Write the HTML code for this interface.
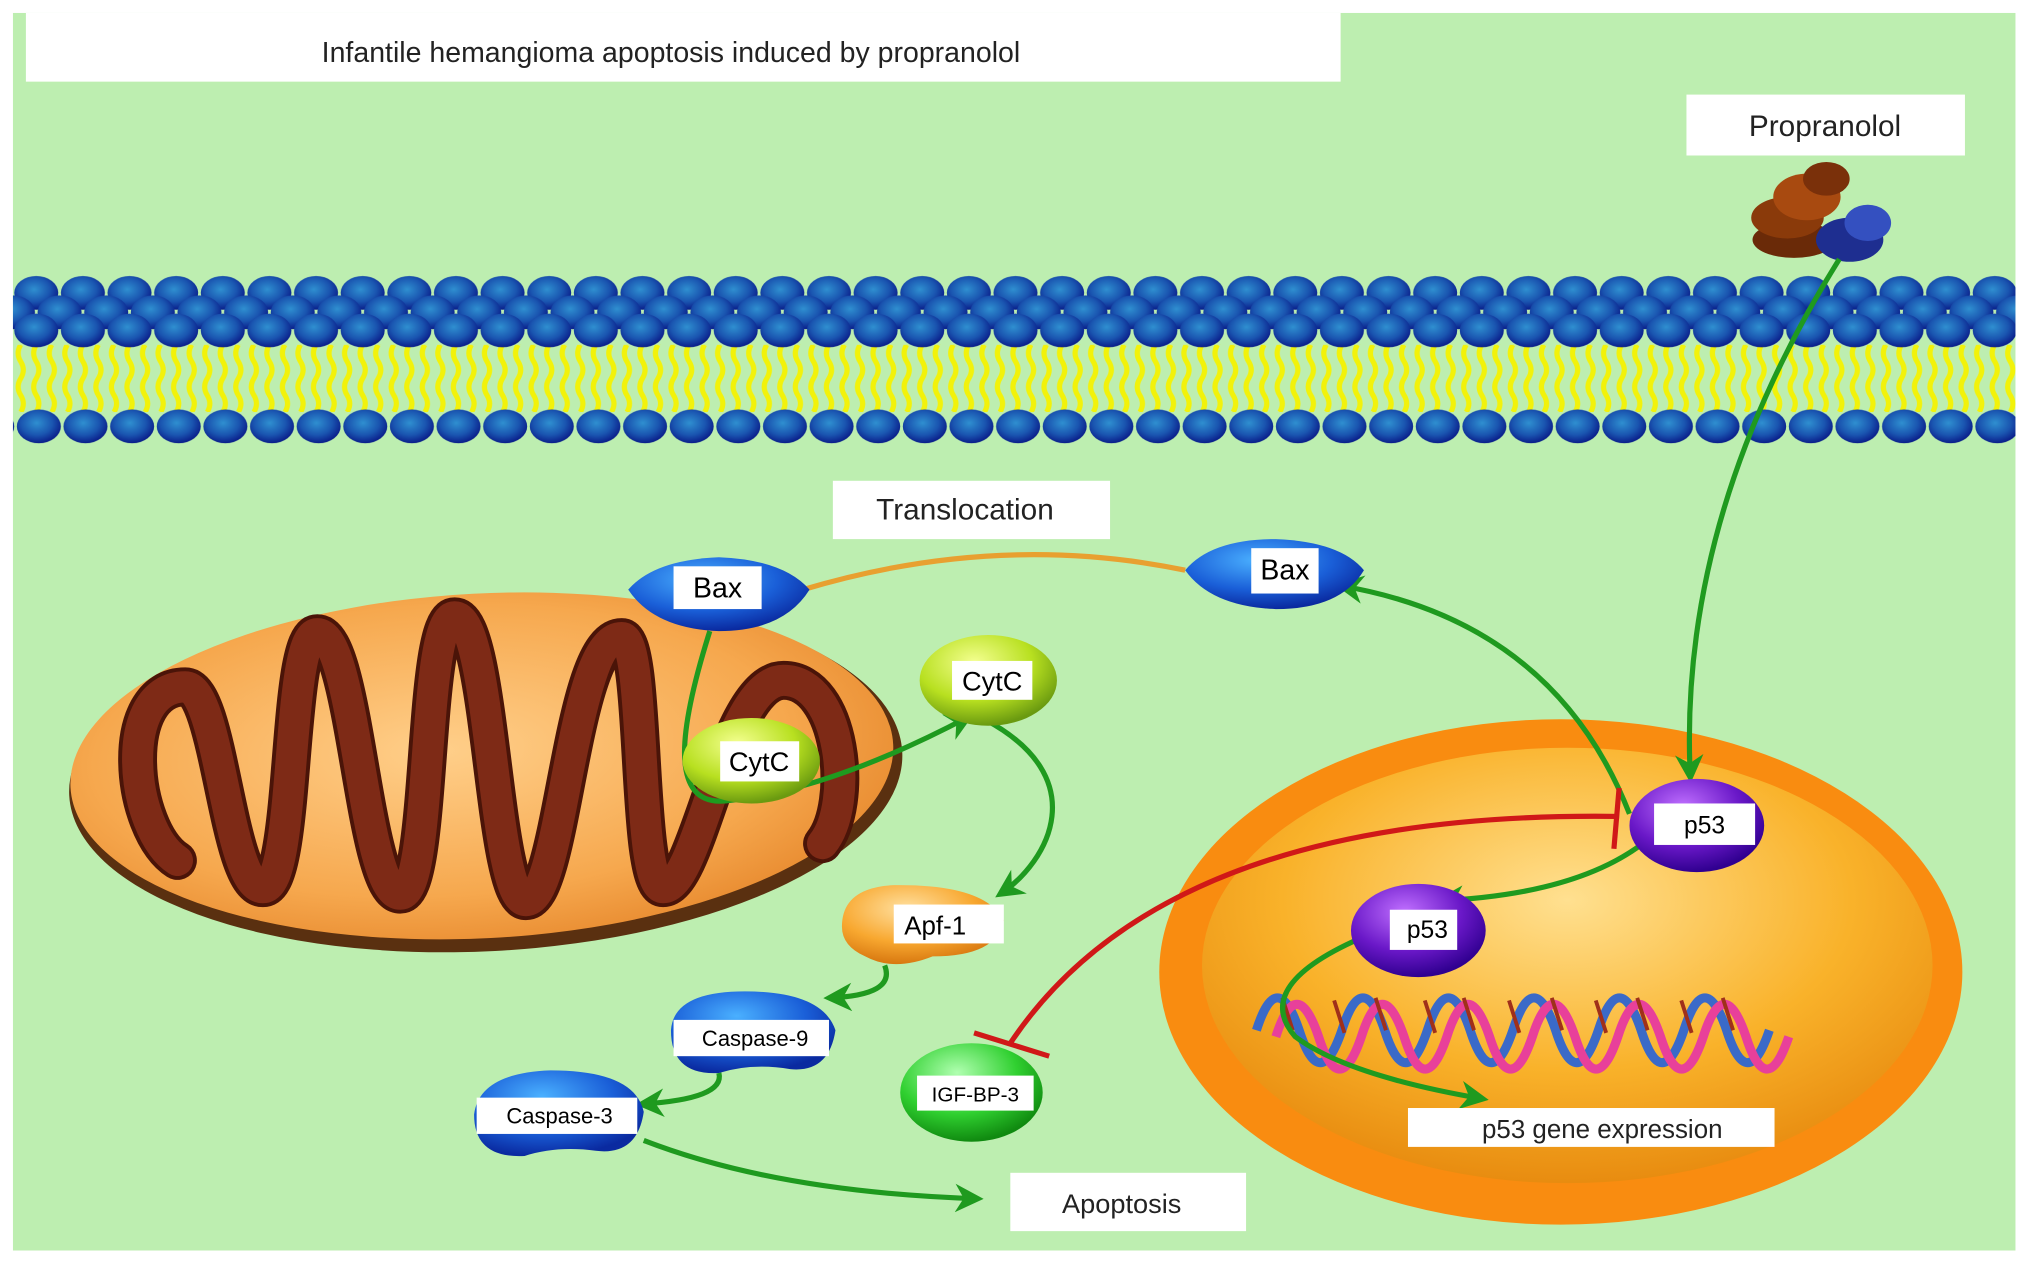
<!DOCTYPE html>
<html><head><meta charset="utf-8"><style>
html,body{margin:0;padding:0;background:#fff;}
svg{display:block;}
text{font-family:"Liberation Sans",Arial,sans-serif;}
</style></head><body>
<svg width="2031" height="1270" viewBox="0 0 1568 980" preserveAspectRatio="none" xmlns="http://www.w3.org/2000/svg">
<defs>
<radialGradient id="ball" cx="0.45" cy="0.4" r="0.6"><stop offset="0" stop-color="#2f8fd0"/><stop offset="0.6" stop-color="#1a55b0"/><stop offset="1" stop-color="#0a1e8a"/></radialGradient>
<pattern id="topballs" x="10" y="210" width="36" height="60" patternUnits="userSpaceOnUse">
<ellipse cx="18" cy="16" rx="17" ry="13" fill="url(#ball)"/>
<ellipse cx="0" cy="31" rx="17" ry="13" fill="url(#ball)"/>
<ellipse cx="36" cy="31" rx="17" ry="13" fill="url(#ball)"/>
<ellipse cx="18" cy="45" rx="17" ry="13" fill="url(#ball)"/>
</pattern>
<pattern id="botballs" x="12" y="310" width="36" height="40" patternUnits="userSpaceOnUse">
<ellipse cx="18" cy="19" rx="17" ry="13" fill="url(#ball)"/>
</pattern>
<pattern id="tails" x="10" y="266" width="12" height="52" patternUnits="userSpaceOnUse">
<path d="M6,0 q-4,6.5 0,13 q4,6.5 0,13 q-4,6.5 0,13 q4,6.5 0,13" stroke="#f2f20a" stroke-width="4" fill="none"/>
</pattern>
<radialGradient id="mito" cx="0.45" cy="0.45" r="0.7"><stop offset="0" stop-color="#ffcf8a"/><stop offset="0.6" stop-color="#f6a84e"/><stop offset="1" stop-color="#e07a1e"/></radialGradient>
<radialGradient id="nuc" cx="0.5" cy="0.35" r="0.65"><stop offset="0" stop-color="#ffe090"/><stop offset="0.6" stop-color="#f9b22a"/><stop offset="1" stop-color="#e88c10"/></radialGradient>
<radialGradient id="blue" cx="0.4" cy="0.3" r="0.7"><stop offset="0" stop-color="#4ab0ff"/><stop offset="0.6" stop-color="#1a5fd8"/><stop offset="1" stop-color="#0a2aa0"/></radialGradient>
<radialGradient id="yg" cx="0.4" cy="0.3" r="0.7"><stop offset="0" stop-color="#f4ff90"/><stop offset="0.6" stop-color="#b8e020"/><stop offset="1" stop-color="#6a9a10"/></radialGradient>
<radialGradient id="or" cx="0.4" cy="0.3" r="0.7"><stop offset="0" stop-color="#ffe0a0"/><stop offset="0.6" stop-color="#f8a830"/><stop offset="1" stop-color="#d87810"/></radialGradient>
<radialGradient id="gr" cx="0.4" cy="0.3" r="0.7"><stop offset="0" stop-color="#b0ffb0"/><stop offset="0.6" stop-color="#30d030"/><stop offset="1" stop-color="#108a10"/></radialGradient>
<radialGradient id="pu" cx="0.4" cy="0.3" r="0.7"><stop offset="0" stop-color="#c070ff"/><stop offset="0.6" stop-color="#6a18c8"/><stop offset="1" stop-color="#300090"/></radialGradient>
<marker id="ag2" viewBox="0 0 10 10" refX="8" refY="5" markerWidth="26" markerHeight="22" orient="auto" markerUnits="userSpaceOnUse"><path d="M0,0 L10,5 L0,10 L3,5z" fill="#1f9a1f"/></marker>
</defs>
<rect x="10" y="10" width="1546" height="955" fill="#bdeeb0"/>
<rect x="0" y="965" width="1568" height="15" fill="#fff"/>
<!-- membrane -->
<rect x="10" y="266" width="1546" height="52" fill="url(#tails)"/>
<rect x="10" y="210" width="1546" height="60" fill="url(#topballs)"/>
<rect x="10" y="312" width="1546" height="36" fill="url(#botballs)"/>
<!-- title -->
<rect x="20" y="10" width="1015" height="53" fill="#fff"/>
<text x="518" y="48" font-size="22" text-anchor="middle" fill="#222">Infantile hemangioma apoptosis induced by propranolol</text>
<rect x="1302" y="73" width="215" height="47" fill="#fff"/>
<text x="1409" y="105" font-size="23" text-anchor="middle" fill="#222">Propranolol</text>
<!-- drug -->
<g>
<ellipse cx="1385" cy="185" rx="32" ry="14" fill="#6a2a08"/>
<ellipse cx="1380" cy="168" rx="28" ry="16" fill="#8a3a0a"/>
<ellipse cx="1395" cy="152" rx="26" ry="18" fill="#a84a10"/>
<ellipse cx="1410" cy="138" rx="18" ry="13" fill="#7a300a"/>
<ellipse cx="1428" cy="185" rx="26" ry="17" fill="#1e2e90"/>
<ellipse cx="1442" cy="172" rx="18" ry="14" fill="#3450c0"/>
</g>
<!-- mitochondrion -->
<ellipse cx="375" cy="597" rx="322" ry="137" fill="#5a3010" transform="rotate(-3 375 597)"/>
<ellipse cx="372" cy="591" rx="318" ry="133" fill="url(#mito)" transform="rotate(-3 372 591)"/>
<path d="M137,664 C100,640 90,530 143,530 C170,530 175,685 203,685 C230,685 220,489 245,489 C275,489 280,690 309,690 C335,690 325,476 351,476 C380,476 380,695 406,695 C435,695 440,492 480,492 C500,492 490,685 512,685 C540,685 560,525 605,525 C650,525 660,620 635,651" stroke="#4a1408" stroke-width="30" fill="none" stroke-linecap="round"/>
<path d="M137,664 C100,640 90,530 143,530 C170,530 175,685 203,685 C230,685 220,489 245,489 C275,489 280,690 309,690 C335,690 325,476 351,476 C380,476 380,695 406,695 C435,695 440,492 480,492 C500,492 490,685 512,685 C540,685 560,525 605,525 C650,525 660,620 635,651" stroke="#7e2a16" stroke-width="24" fill="none" stroke-linecap="round"/>
<!-- nucleus -->
<ellipse cx="1205" cy="750" rx="310" ry="195" fill="#f98c10"/>
<ellipse cx="1210" cy="745" rx="282" ry="168" fill="url(#nuc)"/>
<!-- DNA -->
<g fill="none" stroke-width="7">
<path d="M970,795 q16,-50 33,0 q16,50 33,0 q16,-50 33,0 q16,50 33,0 q16,-50 33,0 q16,50 33,0 q16,-50 33,0 q16,50 33,0 q16,-50 33,0 q16,50 33,0 q16,-50 33,0 q16,50 33,0" stroke="#3a6ac8"/>
<path d="M985,800 q16,-50 33,0 q16,50 33,0 q16,-50 33,0 q16,50 33,0 q16,-50 33,0 q16,50 33,0 q16,-50 33,0 q16,50 33,0 q16,-50 33,0 q16,50 33,0 q16,-50 33,0 q16,50 33,0" stroke="#e8409a"/>
</g>
<g stroke="#a0301a" stroke-width="3">
<path d="M990,770 l8,25 M1030,772 l8,25 M1062,770 l8,25 M1100,772 l8,25 M1130,770 l8,25 M1165,772 l8,25 M1198,770 l8,25 M1232,772 l8,25 M1264,770 l8,25 M1298,772 l8,25 M1330,770 l8,25"/>
</g>
<!-- connectors -->
<path d="M620,455 Q770,410 915,440" stroke="#e8a030" stroke-width="4" fill="none"/>
<g stroke="#1f9a1f" stroke-width="4" fill="none">
<path d="M1420,200 Q1295,400 1305,600" marker-end="url(#ag2)"/>
<path d="M1258,628 Q1200,480 1035,452" marker-end="url(#ag2)"/>
<path d="M1272,648 Q1220,690 1112,695" marker-end="url(#ag2)"/>
<path d="M1055,722 Q965,760 1000,800 Q1040,830 1145,848" marker-end="url(#ag2)"/>
<path d="M548,487 C525,560 515,622 560,618 Q640,610 748,553" marker-end="url(#ag2)"/>
<path d="M760,555 C845,600 810,665 772,690" marker-end="url(#ag2)"/>
<path d="M683,745 Q692,768 640,770" marker-end="url(#ag2)"/>
<path d="M555,828 Q560,848 495,852" marker-end="url(#ag2)"/>
<path d="M497,880 Q600,920 755,925" marker-end="url(#ag2)"/>
</g>
<g stroke="#d01818" stroke-width="4" fill="none">
<path d="M780,805 Q900,625 1250,630"/>
<path d="M1250,608 L1246,655"/>
<path d="M752,797 L810,815"/>
</g>
<!-- nodes -->
<g>
<path d="M485,455 Q505,432 555,430 Q605,432 625,455 Q605,487 555,487 Q505,485 485,455z" fill="url(#blue)"/>
<rect x="520" y="437" width="68" height="33" fill="#fff"/><text x="554" y="461" font-size="22" text-anchor="middle">Bax</text>
<path d="M915,440 Q935,416 985,416 Q1035,418 1053,440 Q1035,470 985,470 Q935,468 915,440z" fill="url(#blue)"/>
<rect x="966" y="423" width="52" height="35" fill="#fff"/><text x="992" y="447" font-size="22" text-anchor="middle">Bax</text>
<ellipse cx="580" cy="587" rx="53" ry="33" fill="url(#yg)"/>
<rect x="556" y="572" width="61" height="31" fill="#fff"/><text x="586" y="595" font-size="21" text-anchor="middle">CytC</text>
<ellipse cx="763" cy="525" rx="53" ry="35" fill="url(#yg)"/>
<rect x="735" y="510" width="62" height="30" fill="#fff"/><text x="766" y="533" font-size="21" text-anchor="middle">CytC</text>
<path d="M650,715 Q650,685 690,683 Q760,682 775,710 Q770,738 720,738 Q690,750 668,738 Q650,730 650,715z" fill="url(#or)"/>
<rect x="690" y="698" width="85" height="30" fill="#fff"/><text x="722" y="721" font-size="20" text-anchor="middle">Apf-1</text>
<path d="M518,795 Q520,765 575,765 Q635,765 645,795 Q640,828 610,825 Q580,820 555,828 Q518,830 518,795z" fill="url(#blue)"/>
<rect x="520" y="787" width="120" height="28" fill="#fff"/><text x="583" y="807" font-size="17" text-anchor="middle">Caspase-9</text>
<path d="M366,860 Q370,828 425,826 Q490,826 497,858 Q492,892 460,888 Q430,884 405,892 Q366,894 366,860z" fill="url(#blue)"/>
<rect x="368" y="847" width="124" height="28" fill="#fff"/><text x="432" y="867" font-size="17" text-anchor="middle">Caspase-3</text>
<ellipse cx="750" cy="843" rx="55" ry="38" fill="url(#gr)"/>
<rect x="708" y="830" width="90" height="27" fill="#fff"/><text x="753" y="850" font-size="16" text-anchor="middle">IGF-BP-3</text>
<ellipse cx="1310" cy="637" rx="52" ry="36" fill="url(#pu)"/>
<rect x="1277" y="620" width="78" height="32" fill="#fff"/><text x="1316" y="643" font-size="19" text-anchor="middle">p53</text>
<ellipse cx="1095" cy="718" rx="52" ry="36" fill="url(#pu)"/>
<rect x="1073" y="702" width="52" height="31" fill="#fff"/><text x="1102" y="724" font-size="19" text-anchor="middle">p53</text>
</g>
<rect x="643" y="371" width="214" height="45" fill="#fff"/><text x="745" y="401" font-size="23" text-anchor="middle" fill="#222">Translocation</text>
<rect x="780" y="905" width="182" height="45" fill="#fff"/><text x="866" y="936" font-size="21" text-anchor="middle" fill="#222">Apoptosis</text>
<rect x="1087" y="855" width="283" height="30" fill="#fff"/><text x="1237" y="878" font-size="20" text-anchor="middle" fill="#222">p53  gene expression</text>
</svg>
</body></html>
